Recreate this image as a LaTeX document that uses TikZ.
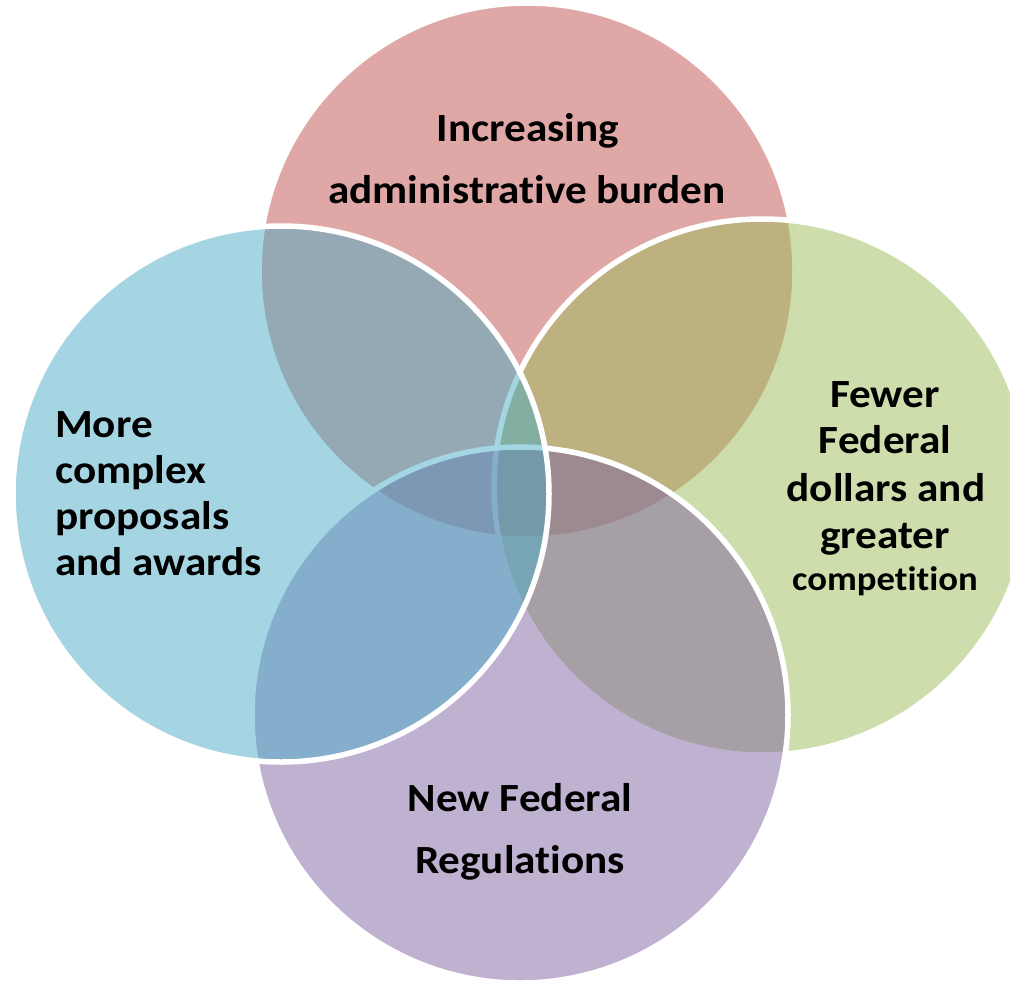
\documentclass[tikz,border=0pt]{standalone}
\usepackage{fontspec}
\setmainfont{Carlito}[FakeStretch=1.08, RawFeature=-liga]
\definecolor{vred}{HTML}{C0504D}
\definecolor{vgreen}{HTML}{9BBB59}
\definecolor{vpurple}{HTML}{8064A2}
\definecolor{vblue}{HTML}{4BACC6}
\tikzset{
  venn/.style={fill=#1, fill opacity=0.5, draw=white, draw opacity=1, line width=5.5pt},
  lbl/.style={inner sep=0pt, font=\fontsize{40}{46}\selectfont\bfseries, text=black},
  lblsmall/.style={inner sep=0pt, font=\fontsize{34}{40}\selectfont\bfseries, text=black}
}
\begin{document}
\begin{tikzpicture}[x=1pt,y=-1pt]
\useasboundingbox (0,0) rectangle (1010,983);
\clip (0,0) rectangle (1010,983);
\coordinate (ctop) at (527,271);
\coordinate (cright) at (762,487);
\coordinate (cbottom) at (520,715);
\coordinate (cleft) at (281,494);
\path[venn=vred] (ctop) circle[radius=268];
\path[venn=vgreen] (cright) circle[radius=268];
\path[venn=vpurple] (cbottom) circle[radius=268];
\path[venn=vblue] (cleft) circle[radius=268];
% top text
\node[lbl, anchor=base] (t1) at (528,141) {Increasing};
\node[lbl, anchor=base] (t2) at (527,203) {administrative burden};
% left text
\node[lbl, anchor=base west] (l1) at (55,437) {More};
\node[lbl, anchor=base west] (l2) at (55,483) {complex};
\node[lbl, anchor=base west] (l3) at (55,529) {proposals};
\node[lbl, anchor=base west] (l4) at (55,575) {and awards};
% right text
\node[lbl, anchor=base] (r1) at (885,407) {Fewer};
\node[lbl, anchor=base] (r2) at (885,453) {Federal};
\node[lbl, anchor=base] (r3) at (886,501) {dollars and};
\node[lbl, anchor=base] (r4) at (885,548) {greater};
\node[lblsmall, anchor=base] (r5) at (885,590) {competition};
% bottom text
\node[lbl, anchor=base] (b1) at (520,811) {New Federal};
\node[lbl, anchor=base] (b2) at (520,873) {Regulations};
\end{tikzpicture}
\end{document}
